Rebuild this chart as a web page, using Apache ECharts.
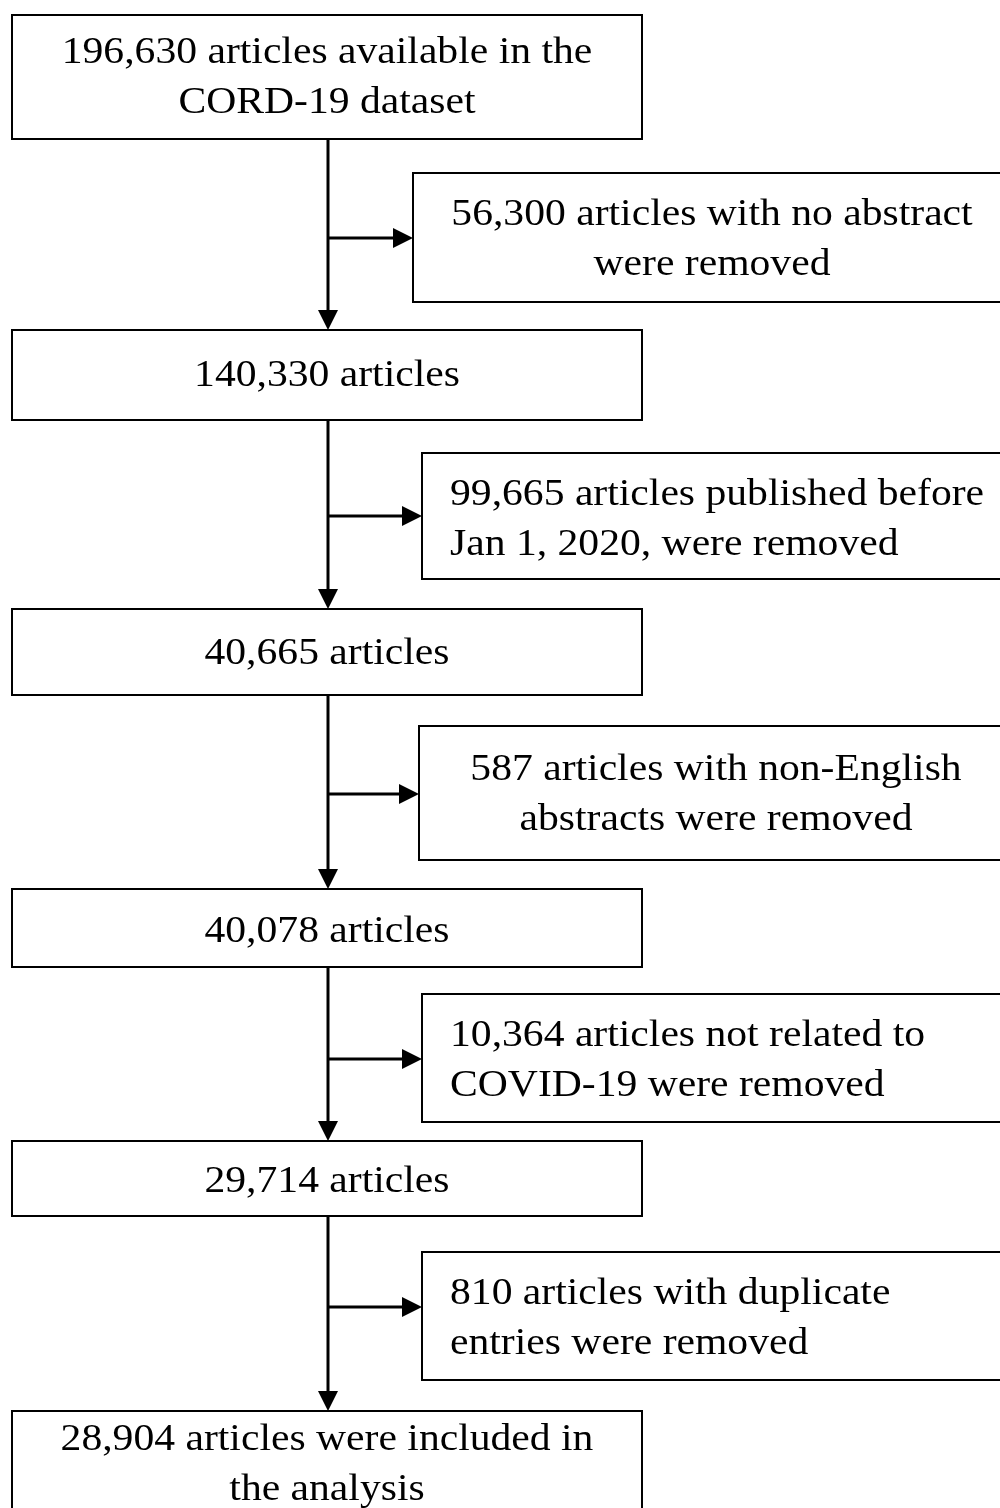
<!DOCTYPE html>
<html>
<head>
<meta charset="utf-8">
<script src="https://cdn.jsdelivr.net/npm/echarts@6/dist/echarts.min.js"></script>
<style>
  html, body { margin: 0; padding: 0; background: #fff; }
  #chart { width: 1000px; height: 1508px; }
</style>
</head>
<body>
<div id="chart"></div>
<script>
// ---- content (texts of the flow) ----
const mainSteps = [
  '196,630 articles available in the\nCORD-19 dataset',
  '140,330 articles',
  '40,665 articles',
  '40,078 articles',
  '29,714 articles',
  '28,904 articles were included in\nthe analysis'
];
const exclusions = [
  '56,300 articles with no abstract\nwere removed',
  '99,665 articles published before\nJan 1, 2020, were removed',
  '587 articles with non-English\nabstracts were removed',
  '10,364 articles not related to\nCOVID-19 were removed',
  '810 articles with duplicate\nentries were removed'
];

// ---- layout (canvas units: x 0..1000, y 0..1508) ----
const MAIN_LEFT = 12, MAIN_RIGHT = 642, MAIN_CX = 327, TRUNK_X = 328;
const mainLayout = [
  { top: 15,   bottom: 139,  ty: 78 },
  { top: 330,  bottom: 420,  ty: 376 },
  { top: 609,  bottom: 695,  ty: 654 },
  { top: 889,  bottom: 967,  ty: 932 },
  { top: 1141, bottom: 1216, ty: 1182 },
  { top: 1411, bottom: 1530, ty: 1465 }
];
const SIDE_RIGHT = 1012;
const sideLayout = [
  { left: 413, top: 173,  bottom: 302,  arrowY: 238,  align: 'center', tx: 712, ty: 240 },
  { left: 422, top: 453,  bottom: 579,  arrowY: 516,  align: 'left',   tx: 450, ty: 520 },
  { left: 419, top: 726,  bottom: 860,  arrowY: 794,  align: 'center', tx: 716, ty: 795 },
  { left: 422, top: 994,  bottom: 1122, arrowY: 1059, align: 'left',   tx: 450, ty: 1061 },
  { left: 422, top: 1252, bottom: 1380, arrowY: 1307, align: 'left',   tx: 450, ty: 1319 }
];

const FONT_SIZE = 37, SCALE_X = 1.125, LINE_H = 50;
const FONT_FAMILY = '"Liberation Serif", "Times New Roman", serif';
const HEAD_LEN = 20, HEAD_HALF = 10;

const chart = echarts.init(document.getElementById('chart'), null, { renderer: 'canvas' });

function textEl(api, str, x, y, align) {
  const p = api.coord([x, y]);
  return {
    type: 'text', x: p[0], y: p[1], scaleX: SCALE_X,
    style: {
      text: str, fill: '#000',
      fontSize: FONT_SIZE, fontFamily: FONT_FAMILY,
      align: align, verticalAlign: 'middle', lineHeight: LINE_H
    }
  };
}
function rectEl(api, l, t, r, b) {
  const p1 = api.coord([l, t]), p2 = api.coord([r, b]);
  return {
    type: 'rect',
    shape: { x: p1[0], y: p1[1], width: p2[0] - p1[0], height: p2[1] - p1[1] },
    style: { fill: '#fff', stroke: '#000', lineWidth: 2 }
  };
}

const option = {
  backgroundColor: '#fff',
  animation: false,
  grid: { left: 0, right: 0, top: 0, bottom: 0 },
  xAxis: { type: 'value', min: 0, max: 1000, show: false },
  yAxis: { type: 'value', min: 0, max: 1508, inverse: true, show: false },
  series: [
    { // connectors and arrows
      type: 'custom', coordinateSystem: 'cartesian2d', clip: false, z: 1,
      data: exclusions.map((_, i) => [i, i]),
      renderItem: function (params, api) {
        const i = params.dataIndex;
        const from = mainLayout[i], to = mainLayout[i + 1], s = sideLayout[i];
        const a = api.coord([TRUNK_X, from.bottom]);
        const b = api.coord([TRUNK_X, to.top]);
        const h1 = api.coord([TRUNK_X, s.arrowY]);
        const h2 = api.coord([s.left, s.arrowY]);
        const st = { stroke: '#000', lineWidth: 3 };
        return {
          type: 'group', children: [
            { type: 'line', shape: { x1: a[0], y1: a[1], x2: b[0], y2: b[1] - HEAD_LEN + 2 }, style: st },
            { type: 'polygon', shape: { points: [[b[0] - HEAD_HALF, b[1] - HEAD_LEN], [b[0] + HEAD_HALF, b[1] - HEAD_LEN], [b[0], b[1]]] }, style: { fill: '#000' } },
            { type: 'line', shape: { x1: h1[0], y1: h1[1], x2: h2[0] - HEAD_LEN + 2, y2: h2[1] }, style: st },
            { type: 'polygon', shape: { points: [[h2[0] - HEAD_LEN, h2[1] - HEAD_HALF], [h2[0] - HEAD_LEN, h2[1] + HEAD_HALF], [h2[0], h2[1]]] }, style: { fill: '#000' } }
          ]
        };
      }
    },
    { // main boxes
      type: 'custom', coordinateSystem: 'cartesian2d', clip: false, z: 2,
      data: mainSteps.map((_, i) => [i, i]),
      renderItem: function (params, api) {
        const i = params.dataIndex, L = mainLayout[i];
        return {
          type: 'group', children: [
            rectEl(api, MAIN_LEFT, L.top, MAIN_RIGHT, L.bottom),
            textEl(api, mainSteps[i], MAIN_CX, L.ty, 'center')
          ]
        };
      }
    },
    { // exclusion boxes
      type: 'custom', coordinateSystem: 'cartesian2d', clip: false, z: 2,
      data: exclusions.map((_, i) => [i, i]),
      renderItem: function (params, api) {
        const i = params.dataIndex, L = sideLayout[i];
        return {
          type: 'group', children: [
            rectEl(api, L.left, L.top, SIDE_RIGHT, L.bottom),
            textEl(api, exclusions[i], L.tx, L.ty, L.align)
          ]
        };
      }
    }
  ]
};
chart.setOption(option);
</script>
</body>
</html>
